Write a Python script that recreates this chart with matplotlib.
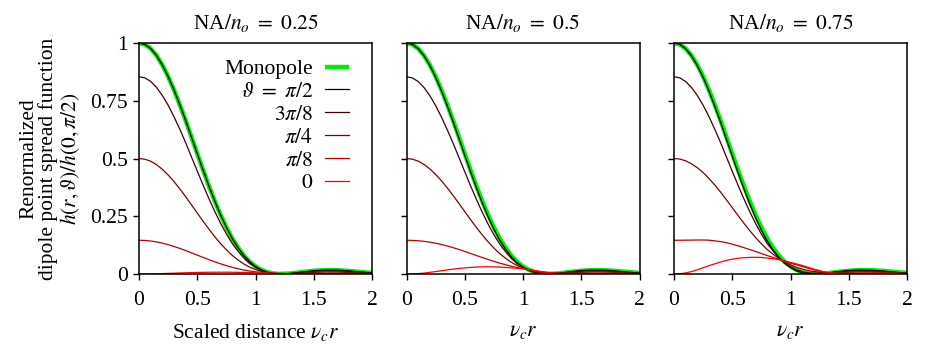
import matplotlib
matplotlib.use("Agg")
import matplotlib.pyplot as plt

plt.rcParams['font.family'] = ['Liberation Serif', 'DejaVu Serif']
plt.rcParams['mathtext.fontset'] = 'stix'
FS = 15.5
plt.rcParams['font.size'] = FS

# scaled distance nu_c r
x = [0, 0.05, 0.1, 0.15, 0.2, 0.25, 0.3, 0.35, 0.4, 0.45, 0.5, 0.55, 0.6, 0.65, 0.7,
     0.75, 0.8, 0.85, 0.9, 0.95, 1.0, 1.05, 1.1, 1.15, 1.2, 1.3, 1.4, 1.5, 1.6, 1.7,
     1.8, 1.9, 2.0]

monopole = [1.000, 0.994, 0.976, 0.946, 0.905, 0.855, 0.797, 0.733, 0.665, 0.593, 0.521,
            0.450, 0.381, 0.316, 0.256, 0.202, 0.154, 0.114, 0.080, 0.053, 0.033, 0.018,
            0.008, 0.0025, 0.0002, 0.0022, 0.0085, 0.0141, 0.0172, 0.0167, 0.0135, 0.0089, 0.0045]

# NA/n_o = 0.25
p1_t90 = [1.000, 0.994, 0.976, 0.946, 0.905, 0.855, 0.797, 0.733, 0.665, 0.593, 0.521,
          0.450, 0.381, 0.316, 0.256, 0.202, 0.154, 0.114, 0.080, 0.053, 0.033, 0.018,
          0.008, 0.0025, 0.0002, 0.0022, 0.0085, 0.0141, 0.0172, 0.0167, 0.0135, 0.0089, 0.0045]
p1_t67 = [0.854, 0.849, 0.834, 0.808, 0.773, 0.731, 0.681, 0.627, 0.569, 0.507, 0.446,
          0.385, 0.3265, 0.271, 0.2197, 0.1736, 0.1326, 0.0984, 0.0693, 0.0462, 0.029, 0.0161,
          0.0074, 0.0026, 0.0006, 0.0021, 0.0074, 0.0121, 0.0148, 0.0144, 0.0116, 0.0077, 0.0039]
p1_t45 = [0.5, 0.497, 0.4883, 0.4735, 0.4534, 0.4288, 0.4003, 0.3687, 0.3352, 0.2995, 0.2638,
          0.2286, 0.1943, 0.1619, 0.1319, 0.1049, 0.0808, 0.0606, 0.0433, 0.0296, 0.0193, 0.0114,
          0.006, 0.0029, 0.0014, 0.0018, 0.0045, 0.0072, 0.0088, 0.0086, 0.007, 0.0047, 0.0024]
p1_t22 = [0.146, 0.1452, 0.1429, 0.139, 0.1336, 0.127, 0.1194, 0.1108, 0.1016, 0.0917, 0.0817,
          0.0718, 0.062, 0.0528, 0.0441, 0.0362, 0.0289, 0.0227, 0.0173, 0.0129, 0.0095, 0.0067,
          0.0046, 0.0032, 0.0021, 0.0014, 0.0016, 0.0024, 0.0028, 0.0028, 0.0024, 0.0016, 0.001]
p1_t0 = [0, 0.0001, 0.0005, 0.001, 0.0018, 0.0026, 0.0035, 0.0044, 0.0053, 0.006, 0.0066,
         0.0071, 0.0075, 0.0078, 0.0078, 0.0078, 0.0075, 0.0071, 0.0066, 0.0061, 0.0055, 0.0048,
         0.004, 0.0033, 0.0025, 0.0013, 0.0005, 0.0003, 0.0004, 0.0005, 0.0005, 0.0004, 0.0003]

# NA/n_o = 0.5
p2_t90 = [1.000, 0.994, 0.9755, 0.945, 0.903, 0.852, 0.793, 0.728, 0.659, 0.587, 0.514,
          0.442, 0.373, 0.308, 0.248, 0.194, 0.147, 0.108, 0.0745, 0.0485, 0.0295, 0.0154,
          0.0063, 0.0016, 0.0001, 0.0029, 0.0094, 0.0148, 0.0174, 0.0164, 0.0128, 0.0080, 0.0037]
p2_t67 = [0.854, 0.849, 0.8334, 0.8076, 0.7722, 0.7291, 0.6792, 0.6243, 0.5659, 0.5048, 0.4429,
          0.3817, 0.3229, 0.2675, 0.2164, 0.1702, 0.1299, 0.0964, 0.0675, 0.045, 0.0285, 0.016,
          0.0076, 0.003, 0.0012, 0.0029, 0.0081, 0.0127, 0.0151, 0.0142, 0.0111, 0.007, 0.0033]
p2_t45 = [0.5, 0.4972, 0.4887, 0.4745, 0.455, 0.4313, 0.4035, 0.3728, 0.34, 0.3055, 0.2703,
          0.2353, 0.2015, 0.1695, 0.1397, 0.1125, 0.0885, 0.0683, 0.0505, 0.0365, 0.026, 0.0172,
          0.0107, 0.0063, 0.0038, 0.003, 0.0052, 0.0078, 0.0093, 0.009, 0.0072, 0.0046, 0.0023]
p2_t22 = [0.146, 0.1454, 0.1439, 0.1414, 0.1378, 0.1334, 0.1278, 0.1212, 0.1141, 0.1062, 0.0976,
          0.0888, 0.0801, 0.0715, 0.0629, 0.0548, 0.0471, 0.0401, 0.0335, 0.028, 0.0235, 0.0184,
          0.0137, 0.0096, 0.0064, 0.003, 0.0023, 0.0029, 0.0035, 0.0037, 0.0032, 0.0022, 0.0012]
p2_t0 = [0, 0.0004, 0.0018, 0.004, 0.007, 0.0105, 0.014, 0.0175, 0.021, 0.024, 0.0265,
         0.0285, 0.030, 0.031, 0.0313, 0.031, 0.030, 0.0285, 0.0265, 0.0245, 0.0225, 0.019,
         0.015, 0.011, 0.0075, 0.003, 0.001, 0.0008, 0.0012, 0.0015, 0.0015, 0.0012, 0.0008]

# NA/n_o = 0.75
p3_t90 = [1.000, 0.994, 0.975, 0.944, 0.902, 0.851, 0.792, 0.726, 0.657, 0.583, 0.510,
          0.438, 0.369, 0.304, 0.244, 0.190, 0.143, 0.105, 0.072, 0.046, 0.028, 0.014,
          0.0054, 0.0011, 0.0001, 0.0032, 0.0098, 0.0151, 0.0174, 0.0162, 0.0124, 0.0076, 0.0033]
p3_t67 = [0.854, 0.8491, 0.8334, 0.8077, 0.7729, 0.7307, 0.6817, 0.6264, 0.5687, 0.5065, 0.4448,
          0.384, 0.3254, 0.2701, 0.219, 0.1727, 0.1322, 0.0993, 0.0706, 0.0476, 0.0312, 0.0184,
          0.01, 0.0051, 0.0032, 0.0039, 0.0087, 0.013, 0.0152, 0.0142, 0.011, 0.0069, 0.003]
p3_t45 = [0.5, 0.4976, 0.4899, 0.4773, 0.46, 0.439, 0.414, 0.385, 0.3545, 0.321, 0.287,
          0.253, 0.2198, 0.188, 0.1583, 0.1308, 0.106, 0.0855, 0.067, 0.0515, 0.039, 0.029,
          0.0212, 0.0151, 0.0106, 0.0056, 0.0059, 0.0081, 0.0097, 0.0096, 0.0077, 0.0051, 0.0024]
p3_t22 = [0.146, 0.1461, 0.1464, 0.1468, 0.1471, 0.1473, 0.1463, 0.1436, 0.1403, 0.1355, 0.1292,
          0.122, 0.1141, 0.1059, 0.0975, 0.0888, 0.0798, 0.0717, 0.0634, 0.0554, 0.0468, 0.0396,
          0.0324, 0.025, 0.0179, 0.0073, 0.0031, 0.0031, 0.0042, 0.005, 0.0044, 0.0032, 0.0018]
p3_t0 = [0, 0.0012, 0.0047, 0.0105, 0.018, 0.027, 0.036, 0.044, 0.052, 0.059, 0.064,
         0.068, 0.0705, 0.072, 0.0725, 0.0715, 0.069, 0.066, 0.062, 0.057, 0.050, 0.044,
         0.037, 0.029, 0.021, 0.008, 0.002, 0.001, 0.002, 0.003, 0.003, 0.0025, 0.0015]

panel_titles = [r'NA$/n_o\ =\ 0.25$', r'NA$/n_o\ =\ 0.5$', r'NA$/n_o\ =\ 0.75$']
xlabels = [r'Scaled distance $\nu_c r$', r'$\nu_c r$', r'$\nu_c r$']
theta_labels = [r'$\vartheta\ =\ \pi/2$', r'$3\pi/8$', r'$\pi/4$', r'$\pi/8$', r'$0$']
theta_colors = ['#000000', '#400000', '#800000', '#bf0000', '#ff0000']
xticks = [0, 0.5, 1, 1.5, 2]
xticklabels = ['0', '0.5', '1', '1.5', '2']
yticks = [0, 0.25, 0.5, 0.75, 1]
yticklabels = ['0', '0.25', '0.5', '0.75', '1']

panels = [
    [p1_t90, p1_t67, p1_t45, p1_t22, p1_t0],
    [p2_t90, p2_t67, p2_t45, p2_t22, p2_t0],
    [p3_t90, p3_t67, p3_t45, p3_t22, p3_t0],
]

fig = plt.figure(figsize=(9.3, 3.57), dpi=100)
lefts = [139 / 930, 406.5 / 930, 674 / 930]
w = 233 / 930
b = 1 - 274 / 357
h = 231 / 357

for k in range(3):
    ax = fig.add_axes([lefts[k], b, w, h])
    ax.plot(x, monopole, color='#00ee00', lw=3.2, label='Monopole', solid_capstyle='butt')
    for series, lab, col in zip(panels[k], theta_labels, theta_colors):
        ax.plot(x, series, color=col, lw=0.9, label=lab)
    ax.set_xlim(0, 2)
    ax.set_ylim(0, 1)
    ax.set_xticks(xticks)
    ax.set_xticklabels(xticklabels)
    ax.set_yticks(yticks)
    if k == 0:
        ax.set_yticklabels(yticklabels)
    else:
        ax.set_yticklabels([])
    ax.tick_params(direction='out', length=4, width=1, pad=4, labelsize=FS)
    ax.tick_params(axis='x', pad=8)
    for s in ax.spines.values():
        s.set_linewidth(1.1)
    ax.set_title(panel_titles[k], fontsize=FS, pad=10)
    ax.set_xlabel(xlabels[k], fontsize=FS, labelpad=9)
    if k == 0:
        ax.set_ylabel('Renormalized\ndipole point spread function\n' + r'$h(r,\vartheta)/h(0,\pi/2)$',
                      fontsize=FS, labelpad=6, linespacing=1.0)
        ax.legend(loc='upper right', bbox_to_anchor=(0.94, 0.968), frameon=False,
                  markerfirst=False, handlelength=1.12, handletextpad=0.56,
                  labelspacing=0.13, fontsize=FS, borderaxespad=0.0)

fig.savefig('out.png', dpi=100)
